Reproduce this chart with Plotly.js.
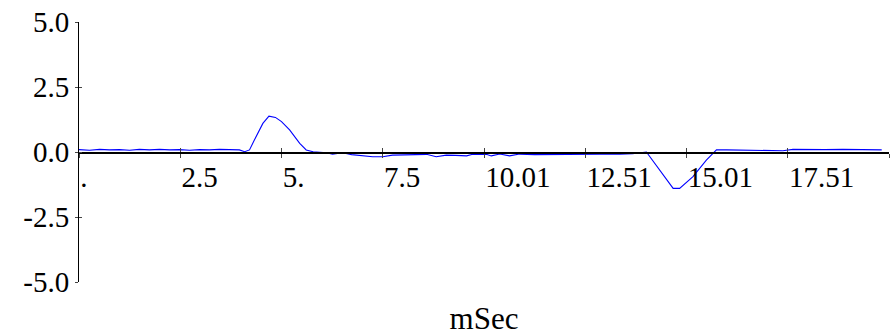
<!DOCTYPE html>
<html>
<head>
<meta charset="utf-8">
<script src="https://cdn.plot.ly/plotly-3.0.1.min.js"></script>
</head>
<body style="margin:0;background:#fff">
<div id="chart"></div>
<script>
var timeMs = [0,0.26,0.51,0.75,1.0,1.25,1.49,1.74,1.99,2.24,2.48,2.73,2.98,3.22,3.47,3.79,3.96,4.09,4.21,4.33,4.54,4.69,4.85,5.0,5.2,5.45,5.61,5.78,6.11,6.26,6.51,6.73,7.0,7.25,7.5,7.74,8.04,8.29,8.58,8.82,9.07,9.3,9.57,9.72,10.06,10.18,10.39,10.63,10.88,11.25,11.62,11.99,12.44,12.86,13.35,13.67,14.01,14.34,14.67,14.83,15.16,15.49,15.74,15.99,16.44,16.81,17.18,17.38,17.63,18.05,18.41,18.86,19.28,19.82];
var signal = [0.09,0.07,0.1,0.08,0.09,0.07,0.1,0.08,0.1,0.08,0.09,0.07,0.09,0.08,0.1,0.1,0.08,0.01,0.08,0.46,1.1,1.38,1.33,1.17,0.85,0.33,0.08,0.01,-0.03,-0.08,-0.03,-0.1,-0.15,-0.18,-0.18,-0.12,-0.11,-0.1,-0.09,-0.18,-0.12,-0.13,-0.15,-0.09,-0.09,-0.15,-0.08,-0.15,-0.08,-0.1,-0.09,-0.09,-0.09,-0.08,-0.08,-0.07,0.0,-0.69,-1.4,-1.4,-0.95,-0.31,0.08,0.08,0.07,0.08,0.07,0.05,0.1,0.08,0.09,0.1,0.08,0.08];
var xTickVals = [0,2.5,5,7.5,10,12.5,15,17.5,20];
var xTickText = [".","2.5","5.","7.5","10.01","12.51","15.01","17.51",""];
var yTickVals = [-5,-2.5,0,2.5,5];
var yTickText = ["-5.0","-2.5","0.0","2.5","5.0"];

var fontFam = "Liberation Serif";
var data = [{
  x: timeMs, y: signal, type: "scatter", mode: "lines",
  line: {color: "#0000ff", width: 1.1}, hoverinfo: "skip", showlegend: false
}, {x: [], y: [], xaxis: "x2", yaxis: "y2", type: "scatter", showlegend: false}];
var layout = {
  width: 896, height: 336,
  margin: {l: 79, r: 7, t: 22, b: 54},
  paper_bgcolor: "#fff", plot_bgcolor: "#fff",
  font: {family: fontFam, color: "#000", size: 29},
  xaxis: {
    range: [0, 20], anchor: "free", position: 0.5,
    showgrid: false, zeroline: false,
    showline: true, linecolor: "#000", linewidth: 1.5,
    tickmode: "array", tickvals: xTickVals, ticktext: xTickText,
    ticks: "outside", ticklen: 4, tickcolor: "#444", tickwidth: 1,
    ticklabelposition: "outside right", ticklabelstandoff: -1,
    tickfont: {family: fontFam, size: 29, color: "#000"},
    title: {text: "mSec", font: {family: fontFam, size: 31, color: "#000"}, standoff: 116}
  },
  xaxis2: {
    range: [0, 20], overlaying: "x", anchor: "free", position: 0.5,
    showgrid: false, zeroline: false, showline: false,
    tickmode: "array", tickvals: xTickVals, showticklabels: false,
    ticks: "inside", ticklen: 4, tickcolor: "#444", tickwidth: 1
  },
  yaxis: {
    range: [-5, 5], showgrid: false, zeroline: false,
    showline: true, linecolor: "#000", linewidth: 1,
    tickmode: "array", tickvals: yTickVals, ticktext: yTickText,
    ticks: "outside", ticklen: 3, tickcolor: "#444", tickwidth: 1,
    ticklabelstandoff: 0,
    tickfont: {family: fontFam, size: 29, color: "#000"}
  },
  yaxis2: {
    range: [-5, 5], overlaying: "y", anchor: "x",
    showgrid: false, zeroline: false, showline: false,
    tickmode: "array", tickvals: yTickVals, showticklabels: false,
    ticks: "inside", ticklen: 3, tickcolor: "#444", tickwidth: 1
  }
};
Plotly.newPlot("chart", data, layout, {staticPlot: true, displayModeBar: false});
</script>
</body>
</html>
